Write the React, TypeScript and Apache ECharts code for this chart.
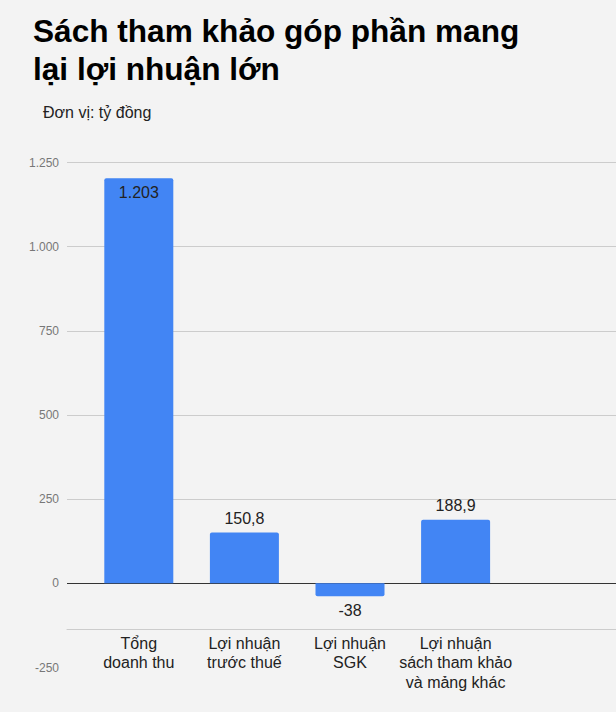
import {useEffect, useRef} from 'react';
import * as echarts from 'echarts';

const categories = ['Tổng\ndoanh thu', 'Lợi nhuận\ntrước thuế', 'Lợi nhuận\nSGK', 'Lợi nhuận\nsách tham khảo\nvà mảng khác'];
const values = [1203, 150.8, -38, 188.9];
const yTicks = [-250, 0, 250, 500, 750, 1000, 1250];

const BLUE = '#4285f4';
const BG = '#f3f3f3';

// Vietnamese number style: 1.203 / 150,8
function fmt(v: number): string {
    const [i, d] = Math.abs(v).toString().split('.');
    const ip = i.replace(/\B(?=(\d{3})+(?!\d))/g, '.');
    return (v < 0 ? '-' : '') + ip + (d ? ',' + d : '');
}

export default function App() {
    const ref = useRef<HTMLDivElement | null>(null);

    useEffect(() => {
        if (!ref.current) return;
        const chart = echarts.init(ref.current, null, {renderer: 'svg'});
        const yMin = yTicks[0];
        const yMax = yTicks[yTicks.length - 1];
        const step = yTicks[1] - yTicks[0];
        // first split line (-250) hidden, zero line dark, rest light grey
        const splitColors = yTicks.map(t => (t === yMin ? 'rgba(0,0,0,0)' : t === 0 ? '#333' : '#cccccc'));

        chart.setOption({
            animation: false,
            backgroundColor: BG,
            title: [
                {
                    text: 'Sách tham khảo góp phần mang\nlại lợi nhuận lớn',
                    left: 33, top: 12, padding: 0,
                    textStyle: {fontFamily: 'Liberation Sans', fontSize: 31.6, fontWeight: 'bold', color: '#000', lineHeight: 38}
                },
                {
                    text: 'Đơn vị: tỷ đồng',
                    left: 43, top: 102, padding: 0,
                    textStyle: {fontFamily: 'Liberation Sans', fontSize: 16, fontWeight: 'normal', color: '#222', lineHeight: 20}
                }
            ],
            grid: [
                {left: 67, right: 0, top: 162.5, bottom: 44.5},
                {left: 86, right: 107.6, top: 162.5, bottom: 44.5}
            ],
            xAxis: [
                {
                    gridIndex: 0, type: 'value', min: 0, max: 1, offset: -38.2,
                    axisLine: {show: true, onZero: false, lineStyle: {color: '#cccccc'}},
                    axisTick: {show: false}, axisLabel: {show: false}, splitLine: {show: false}
                },
                {
                    gridIndex: 1, type: 'category', data: categories, offset: -38.2,
                    axisLine: {show: false, onZero: false}, axisTick: {show: false},
                    axisLabel: {
                        interval: 0, margin: 4, fontFamily: 'Liberation Sans', fontSize: 16,
                        color: '#222', lineHeight: 19.5, verticalAlign: 'top'
                    }
                }
            ],
            yAxis: [
                {
                    gridIndex: 0, type: 'value', min: yMin, max: yMax, interval: step,
                    axisLine: {show: false}, axisTick: {show: false},
                    axisLabel: {margin: 8, fontFamily: 'Liberation Sans', fontSize: 12, color: '#777', formatter: (v: number) => fmt(v)},
                    splitLine: {show: true, lineStyle: {color: splitColors, width: 1}}
                },
                {gridIndex: 1, type: 'value', min: yMin, max: yMax, interval: step, show: false}
            ],
            series: [
                {
                    type: 'bar', xAxisIndex: 1, yAxisIndex: 1, barWidth: 69,
                    itemStyle: {color: BLUE},
                    label: {
                        show: true, fontFamily: 'Liberation Sans', fontSize: 16, color: '#222', distance: 6,
                        formatter: (p: any) => fmt(p.value)
                    },
                    data: values.map(v => ({
                        value: v,
                        itemStyle: {borderRadius: v < 0 ? [0, 0, 2, 2] : [2, 2, 0, 0]},
                        label: {position: v < 0 ? 'bottom' : v > 1000 ? 'insideTop' : 'top'}
                    }))
                }
            ]
        });

        return () => chart.dispose();
    }, []);

    return (
        <div
            ref={ref}
            style={{position: 'fixed', left: 0, top: 0, width: 616, height: 712, background: BG}}
        />
    );
}
